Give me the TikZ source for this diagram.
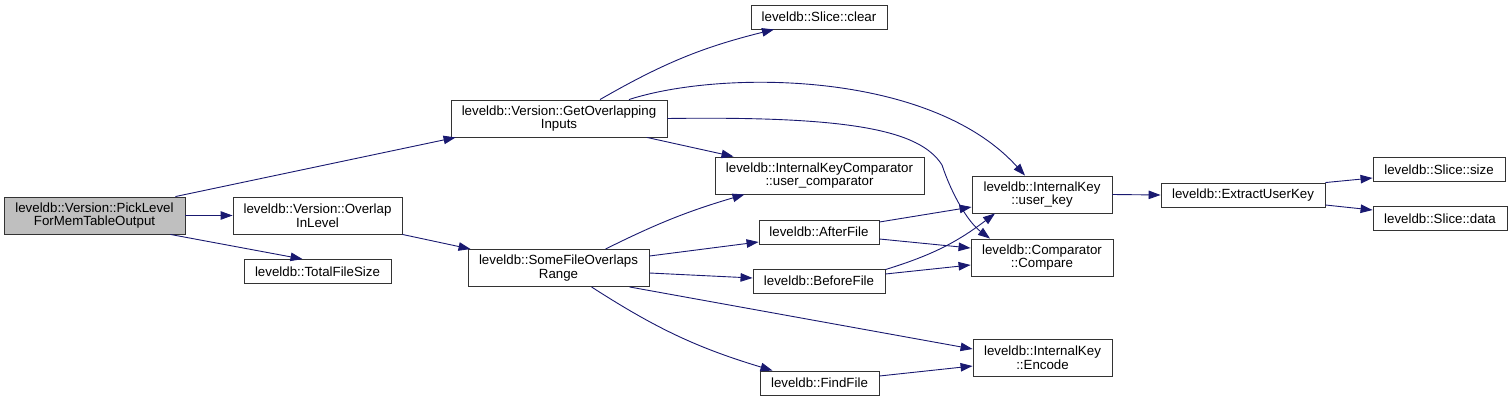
\documentclass[tikz,border=0pt]{standalone}
\usepackage{fontspec}
\setmainfont{Liberation Sans}
\usetikzlibrary{arrows.meta}
\definecolor{callblue}{HTML}{191970}

\begin{document}
\begin{tikzpicture}[
    x=1pt, y=-1pt,
    >={Triangle[length=12pt,width=8.5pt]},
    every node/.style={align=center},
    fn/.style={
        draw=black!80,
        line width=0.9pt,
        inner sep=0pt,
        minimum height=24pt,
        font=\fontsize{13.3}{13.5}\selectfont
    },
    fntwo/.style={
        fn,
        minimum height=37pt
    },
    fnroot/.style={
        fntwo,
        fill=black!25
    },
    call/.style={
        ->,
        line width=0.9pt,
        draw=callblue
    }
]
\useasboundingbox (0,0) rectangle (1512,401);

\node[fnroot, minimum width=181pt] (pick) at (94.5,215.5) {leveldb::Version::PickLevel\\ForMemTableOutput};
\node[fntwo, minimum width=169pt] (overlap) at (317.5,215.5) {leveldb::Version::Overlap\\InLevel};
\node[fn, minimum width=147pt] (total) at (317.5,271.5) {leveldb::TotalFileSize};
\node[fntwo, minimum width=216pt] (getover) at (559,118.5) {leveldb::Version::GetOverlapping\\Inputs};
\node[fntwo, minimum width=181pt] (sfor) at (558.5,268) {leveldb::SomeFileOverlaps\\Range};
\node[fn, minimum width=136pt] (clear) at (819,17) {leveldb::Slice::clear};
\node[fntwo, minimum width=209pt] (ikc) at (819.5,175.5) {leveldb::InternalKeyComparator\\::user\_comparator};
\node[fn, minimum width=120pt] (after) at (819,232) {leveldb::AfterFile};
\node[fn, minimum width=132pt] (before) at (819,281) {leveldb::BeforeFile};
\node[fn, minimum width=119pt] (find) at (819.5,383) {leveldb::FindFile};
\node[fntwo, minimum width=140pt] (userkey) at (1042,194.5) {leveldb::InternalKey\\::user\_key};
\node[fntwo, minimum width=142pt] (compare) at (1042,257.5) {leveldb::Comparator\\::Compare};
\node[fntwo, minimum width=139pt] (encode) at (1042.5,357.5) {leveldb::InternalKey\\::Encode};
\node[fn, minimum width=164pt] (extract) at (1243,195) {leveldb::ExtractUserKey};
\node[fn, minimum width=132pt] (size) at (1439,169.5) {leveldb::Slice::size};
\node[fn, minimum width=134pt] (data) at (1440,218.5) {leveldb::Slice::data};

% calls from PickLevelForMemTableOutput
\draw[call] ([xshift=-10pt]pick.north east) -- ([xshift=5pt]getover.south west);
\draw[call] (pick.east) -- (overlap.west);
\draw[call] ([xshift=-15pt]pick.south east) -- ([xshift=-15pt]total.north);
\draw[call] (overlap.south east) -- ([xshift=3pt]sfor.north west);

% calls from GetOverlappingInputs
\draw[call] ([xshift=41pt]getover.north) to[bend left=8] ([xshift=-45pt]clear.south);
\draw[call] ([xshift=70pt]getover.north) .. controls (720,70) and (930,70) .. ([xshift=-17pt]userkey.north);
\draw[call] (getover.east) .. controls (850,116) and (920,130) .. (942,165)
    .. controls (952,195) and (968,222) .. ([xshift=-52pt]compare.north);
\draw[call] ([xshift=88pt]getover.south) -- ([xshift=-86pt]ikc.north);

% calls from SomeFileOverlapsRange
\draw[call] ([xshift=47pt]sfor.north) to[bend left=5] ([xshift=-75pt]ikc.south);
\draw[call] ([yshift=12pt]sfor.east) -- ([yshift=-10pt]after.west);
\draw[call] ([yshift=-5pt]sfor.east) -- ([yshift=3pt]before.west);
\draw[call] ([xshift=71pt]sfor.south) -- ([yshift=8.5pt]encode.west);
\draw[call] ([xshift=33pt]sfor.south) to[bend right=8] ([xshift=-47pt]find.north);

% AfterFile, BeforeFile, FindFile
\draw[call] ([yshift=10pt]after.east) -- ([yshift=-12.5pt]userkey.west);
\draw[call] ([yshift=-7pt]after.east) -- ([yshift=9.5pt]compare.west);
\draw[call] ([yshift=-1pt]before.north east) to[bend right=10] ([xshift=-47pt]userkey.south);
\draw[call] ([yshift=7pt]before.east) -- ([yshift=-7.5pt]compare.west);
\draw[call] ([yshift=7pt]find.east) -- ([yshift=-8.5pt]encode.west);

% user_key and ExtractUserKey
\draw[call] (userkey.east) -- (extract.west);
\draw[call] (extract.north east) -- ([yshift=-8.5pt]size.west);
\draw[call] ([yshift=-10pt]extract.east) -- ([yshift=8.5pt]data.west);
\end{tikzpicture}
\end{document}
